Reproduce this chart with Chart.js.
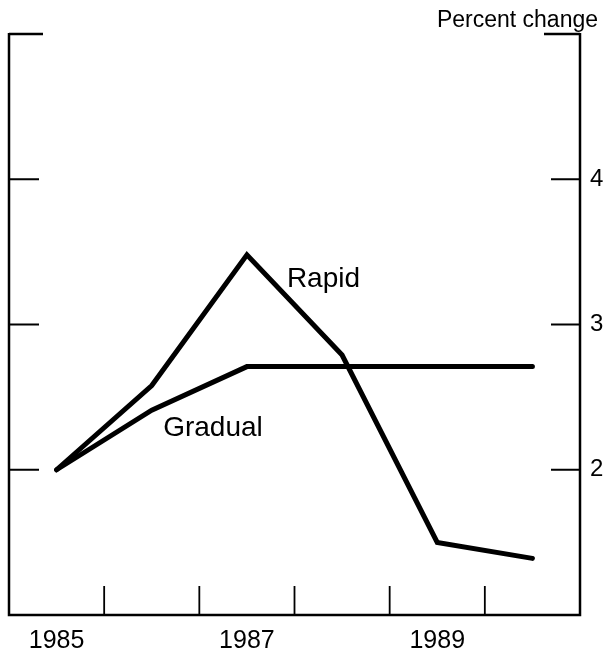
<!DOCTYPE html>
<html>
<head>
<meta charset="utf-8">
<script src="https://cdn.jsdelivr.net/npm/chart.js@4/dist/chart.umd.min.js"></script>
<style>
  html, body { margin: 0; padding: 0; background: white; }
  #wrap { width: 604px; height: 652px; position: relative; }
</style>
</head>
<body>
<div id="wrap"><canvas id="myChart"></canvas></div>
<script>
var years = [1985, 1986, 1987, 1988, 1989, 1990];
var rapid = [2.0, 2.58, 3.48, 2.79, 1.50, 1.39];
var gradual = [2.0, 2.41, 2.71, 2.71, 2.71, 2.71];
var xLabels = [1985, 1987, 1989];
var xTickMarks = [1985.5, 1986.5, 1987.5, 1988.5, 1989.5];
var yTicks = [2, 3, 4];

// text labels placed in data units
var notes = [
  {text: "Rapid", x: 1987.42, y: 3.26},
  {text: "Gradual", x: 1986.12, y: 2.23}
];

var toPoints = function (vals) {
  return years.map(function (yr, i) { return {x: yr, y: vals[i]}; });
};

var framePlugin = {
  id: "frame",
  afterDraw: function (chart) {
    var ctx = chart.ctx;
    var a = chart.chartArea;
    var xs = chart.scales.x, ys = chart.scales.y;
    ctx.save();
    ctx.strokeStyle = "#000";
    ctx.lineWidth = 2.5;
    ctx.lineCap = "butt";
    ctx.beginPath();
    // sides and bottom
    ctx.moveTo(a.left, a.top - 1);
    ctx.lineTo(a.left, a.bottom);
    ctx.lineTo(a.right, a.bottom);
    ctx.lineTo(a.right, a.top - 1);
    // top corner stubs
    ctx.moveTo(a.left, a.top);
    ctx.lineTo(a.left + 34, a.top);
    ctx.moveTo(a.right, a.top);
    ctx.lineTo(a.right - 36, a.top);
    ctx.stroke();

    ctx.lineWidth = 1.8;
    ctx.beginPath();
    yTicks.forEach(function (v) {
      var py = ys.getPixelForValue(v);
      ctx.moveTo(a.left, py);
      ctx.lineTo(a.left + 30, py);
      ctx.moveTo(a.right, py);
      ctx.lineTo(a.right - 29, py);
    });
    xTickMarks.forEach(function (v) {
      var px = xs.getPixelForValue(v);
      ctx.moveTo(px, a.bottom);
      ctx.lineTo(px, a.bottom - 29);
    });
    ctx.stroke();

    ctx.fillStyle = "#000";
    ctx.font = "28px 'Liberation Sans', Arial, sans-serif";
    ctx.textBaseline = "alphabetic";
    ctx.textAlign = "left";
    notes.forEach(function (n) {
      ctx.fillText(n.text, xs.getPixelForValue(n.x), ys.getPixelForValue(n.y));
    });

    ctx.font = "23px 'Liberation Sans', Arial, sans-serif";
    ctx.textAlign = "right";
    ctx.fillText("Percent change", 598, 27);
    ctx.restore();
  }
};

new Chart("myChart", {
  type: "line",
  data: {
    datasets: [{
      label: "Rapid",
      data: toPoints(rapid),
      borderColor: "#000",
      borderWidth: 5,
      borderCapStyle: "round",
      borderJoinStyle: "miter",
      pointRadius: 0,
      tension: 0
    }, {
      label: "Gradual",
      data: toPoints(gradual),
      borderColor: "#000",
      borderWidth: 5,
      borderCapStyle: "round",
      borderJoinStyle: "miter",
      pointRadius: 0,
      tension: 0
    }]
  },
  options: {
    responsive: true,
    maintainAspectRatio: false,
    animation: false,
    layout: {padding: {top: 34, left: 9, right: 0, bottom: 0}},
    plugins: {
      legend: {display: false},
      tooltip: {enabled: false}
    },
    scales: {
      x: {
        type: "linear",
        min: 1984.5,
        max: 1990.5,
        grid: {display: false, drawTicks: false},
        border: {display: false},
        afterBuildTicks: function (scale) {
          scale.ticks = xLabels.map(function (v) { return {value: v}; });
        },
        afterFit: function (scale) { scale.height = 37; },
        ticks: {
          color: "#000",
          padding: 11,
          maxRotation: 0,
          autoSkip: false,
          font: {family: "'Liberation Sans', Arial, sans-serif", size: 25},
          callback: function (v) { return String(v); }
        }
      },
      y: {
        position: "right",
        min: 1,
        max: 5,
        grid: {display: false, drawTicks: false},
        border: {display: false},
        afterBuildTicks: function (scale) {
          scale.ticks = yTicks.map(function (v) { return {value: v}; });
        },
        afterFit: function (scale) { scale.width = 24; },
        ticks: {
          color: "#000",
          padding: 10,
          font: {family: "'Liberation Sans', Arial, sans-serif", size: 24}
        }
      }
    }
  },
  plugins: [framePlugin]
});
</script>
</body>
</html>
